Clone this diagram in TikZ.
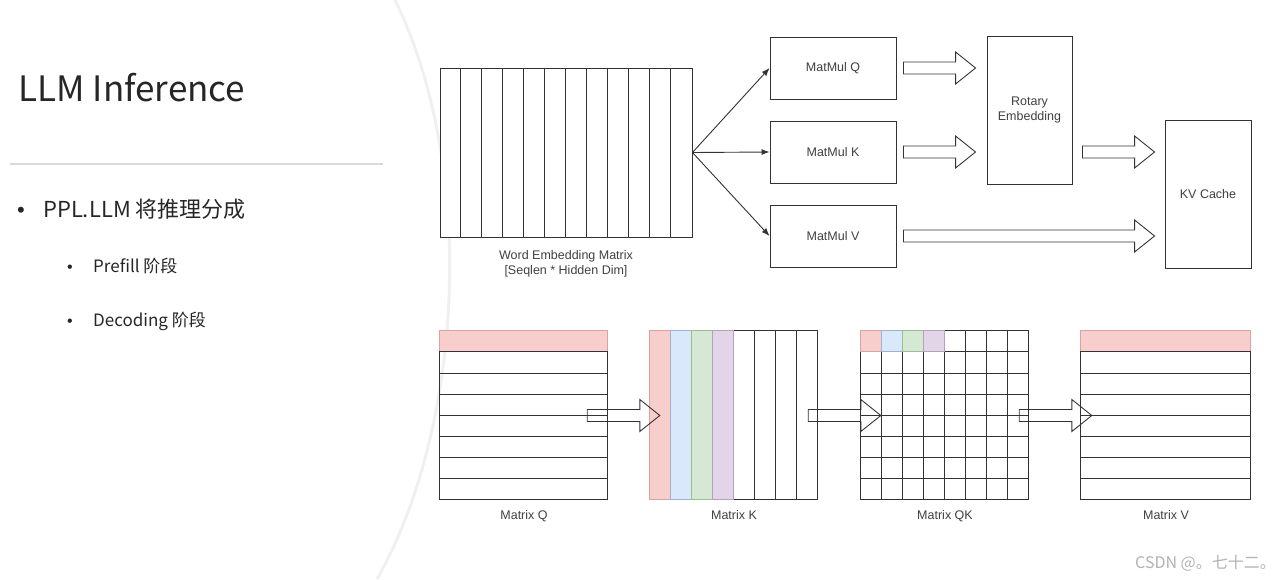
\documentclass[tikz,border=0pt]{standalone}
\usepackage{fontspec}
\setmainfont{Liberation Sans}
\newfontfamily\cjk{Noto Sans CJK SC}
\usetikzlibrary{arrows.meta,positioning,calc}

\definecolor{linecol}{HTML}{333333}
\definecolor{textcol}{HTML}{404040}
\definecolor{cred}{HTML}{F8CECC}   \definecolor{credline}{HTML}{D9A3A1}
\definecolor{cblue}{HTML}{DAE8FC}  \definecolor{cblueline}{HTML}{9DB3D6}
\definecolor{cgreen}{HTML}{D5E8D4} \definecolor{cgreenline}{HTML}{9CBF8E}
\definecolor{cpurple}{HTML}{E1D5E7}\definecolor{cpurpleline}{HTML}{B4A0C0}

\tikzset{
  box/.style={draw=linecol, line width=0.9pt, fill=white, text=textcol,
    font=\fontsize{12.5}{15}\selectfont, inner sep=0pt, align=center},
  frame/.style={minimum width=168pt, minimum height=169pt, inner sep=0pt},
  cell/.style={draw=linecol, line width=0.9pt},
  fatline/.style={draw=linecol, line width=0.9pt},
  thinarrow/.style={draw=linecol, line width=0.9pt, -{Latex[length=8pt,width=6pt]}},
  caption/.style={text=textcol, font=\fontsize{12.5}{15}\selectfont, inner sep=0pt, align=center},
}

% hollow block arrow, horizontal, from #1 to the tip #2
\newcommand{\fatarrow}[2]{%
  \draw[fatline] let \p1=(#1), \p2=(#2) in
    (\x1,\y1+6pt) -- (\x2-20pt,\y1+6pt) -- (\x2-20pt,\y1+16pt) -- (\x2,\y1)
    -- (\x2-20pt,\y1-16pt) -- (\x2-20pt,\y1-6pt) -- (\x1,\y1-6pt) -- cycle;}

\begin{document}
\begin{tikzpicture}[x=1pt,y=-1pt]
  \useasboundingbox (0,0) rectangle (1280,579);

  % Slide curve
  \draw[gray!12, line width=3pt] (395,0) .. controls (478,170) and (462,430) .. (377,579);

  % Title and bullets
  \node[anchor=base west, font=\cjk\fontsize{35}{38}\selectfont, text=black!85] (title) at (15,101) {LLM Inference};
  \draw[gray!30, line width=1.5pt] (10,164) -- (383,164);
  \node[anchor=base, font=\fontsize{22}{22}\selectfont, text=black!85] (dot1) at (21,217) {\textbullet};
  \node[anchor=base west, font=\cjk\fontsize{22}{24}\selectfont, text=black!85, inner sep=0pt] (item1) at (43,217) {PPL.LLM 将推理分成};
  \node[anchor=base, font=\fontsize{16}{16}\selectfont, text=black!85] (dot2) at (70,272) {\textbullet};
  \node[anchor=base west, font=\cjk\fontsize{17}{19}\selectfont, text=black!85, inner sep=0pt] (item2) at (93,272) {Prefill 阶段};
  \node[anchor=base, font=\fontsize{16}{16}\selectfont, text=black!85] (dot3) at (70,326) {\textbullet};
  \node[anchor=base west, font=\cjk\fontsize{17}{19}\selectfont, text=black!85, inner sep=0pt] (item3) at (93,326) {Decoding 阶段};

  % Word embedding matrix
  \node[box, minimum width=252pt, minimum height=169pt] (emb) at (566,152.5) {};
  \foreach \i in {1,...,11}
    \draw[cell] ($(emb.north west)+(\i*21,0)$) -- ($(emb.south west)+(\i*21,0)$);
  \node[caption, below=13pt of emb] (embcap) {Word Embedding Matrix\\{}[Seqlen * Hidden Dim]};

  % MatMul boxes
  \foreach \n/\y/\lab in {mmq/68/Q, mmk/152/K, mmv/236/V}
    \node[box, minimum width=126pt, minimum height=62pt] (\n) at (833,\y) {MatMul \lab};
  \node[box, minimum width=85pt, minimum height=148pt] (rope) at (1029.5,110) {Rotary\\Embedding};
  \node[box, minimum width=86pt, minimum height=148pt] (kv) at (1208,194) {KV Cache};

  \foreach \n in {mmq,mmk,mmv}
    \draw[thinarrow] (emb.east) -- (\n.west);

  \fatarrow{$(mmq.east)+(7,0)$}{$(rope.west |- mmq.east)+(-11,0)$}
  \fatarrow{$(mmk.east)+(7,0)$}{$(rope.west |- mmk.east)+(-11,0)$}
  \fatarrow{$(rope.east |- mmk.east)+(10,0)$}{$(kv.west |- mmk.east)+(-10,0)$}
  \fatarrow{$(mmv.east)+(7,0)$}{$(kv.west |- mmv.east)+(-10,0)$}

  % Matrix Q
  \node[frame] (matq) at (524,415.5) {};
  \draw[cell, draw=credline, fill=cred] (matq.north west) rectangle +(168,21.125);
  \foreach \r in {1,...,7}
    \draw[cell] ($(matq.north west)+(0,\r*21.125)$) rectangle +(168,21.125);
  \node[caption, below=10pt of matq] (matqcap) {Matrix Q};

  % Matrix K
  \node[frame] (matk) at (734,415.5) {};
  \foreach \c in {4,...,7}
    \draw[cell] ($(matk.north west)+(\c*21,0)$) rectangle +(21,169);
  \foreach \c/\fcol in {0/cred, 1/cblue, 2/cgreen, 3/cpurple}
    \draw[cell, draw=\fcol line, fill=\fcol] ($(matk.north west)+(\c*21,0)$) rectangle +(21,169);
  \node[caption, below=10pt of matk] (matkcap) {Matrix K};

  % Matrix QK
  \node[frame] (matqk) at (945,415.5) {};
  \foreach \r in {0,...,7}
    \foreach \c in {0,...,7}
      \draw[cell] ($(matqk.north west)+(\c*21,\r*21.125)$) rectangle +(21,21.125);
  \foreach \c/\fcol in {0/cred, 1/cblue, 2/cgreen, 3/cpurple}
    \draw[cell, draw=\fcol line, fill=\fcol] ($(matqk.north west)+(\c*21,0)$) rectangle +(21,21.125);
  \node[caption, below=10pt of matqk] (matqkcap) {Matrix QK};

  % Matrix V
  \node[frame, minimum width=170pt] (matv) at (1166,415.5) {};
  \draw[cell, draw=credline, fill=cred] (matv.north west) rectangle +(170,21.125);
  \foreach \r in {1,...,7}
    \draw[cell] ($(matv.north west)+(0,\r*21.125)$) rectangle +(170,21.125);
  \node[caption, below=10pt of matv] (matvcap) {Matrix V};

  \fatarrow{$(matq.east)+(-21,0)$}{$(matk.west)+(10,0)$}
  \fatarrow{$(matk.east)+(-10,0)$}{$(matqk.west)+(20,0)$}
  \fatarrow{$(matqk.east)+(-10,0)$}{$(matv.west)+(11,0)$}

  % Watermark
  \node[anchor=base west, font=\cjk\fontsize{16}{18}\selectfont, text=gray!60, inner sep=0pt] (mark) at (1135,568) {CSDN @。七十二。};
\end{tikzpicture}
\end{document}
